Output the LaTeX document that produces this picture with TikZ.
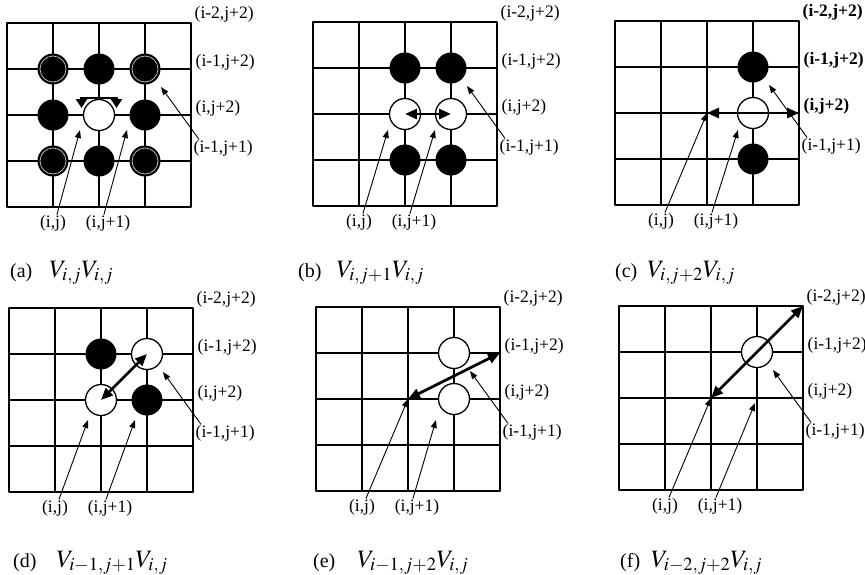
\documentclass[tikz,border=0pt]{standalone}
\usepackage{mathptmx}
\usepackage[no-math]{fontspec}
\setmainfont{Liberation Serif}
\usetikzlibrary{arrows.meta}

\tikzset{
  gridline/.style={line width=1.2pt},
  outline/.style={line width=1.7pt},
  lbl/.style={inner sep=0.5pt, font=\fontsize{17.5}{19}\selectfont},
  boldlbl/.style={lbl, font=\fontsize{17.5}{19}\selectfont\bfseries},
  pointer/.style={line width=0.9pt, -{Triangle[length=8pt,width=6pt]}},
  bigarrow/.style={line width=2.8pt, {Triangle[length=12pt,width=10pt]}-{Triangle[length=12pt,width=10pt]}},
  blackdot/.style={circle, fill=black, minimum size=31pt, inner sep=0pt},
  ringdot/.style={blackdot, path picture={\draw[gray!45, line width=0.7pt] (path picture bounding box.center) circle (13pt);}},
  whitedot/.style={circle, draw, line width=1.3pt, fill=white, minimum size=31pt, inner sep=0pt},
  captxt/.style={anchor=base west, inner sep=0pt, font=\fontsize{20}{24}\selectfont},
}

\newcommand{\capmath}[1]{{\fontsize{25}{30}\selectfont$#1$}}

% grid, row labels and the three pointers of one panel
% #1 name, #2 target of (i,j), #3 target of (i,j+1), #4 style of the upper labels
\newcommand{\cellpanel}[4]{%
  \foreach \k in {1,2,3} {
    \draw[gridline] (\k*46,0) -- (\k*46,184);
    \draw[gridline] (0,\k*46) -- (184,\k*46);
  }
  \draw[outline] (0,0) rectangle (184,184);
  \foreach \cx in {0,...,4} \foreach \ry in {0,...,4} \coordinate (#1-\cx-\ry) at (\cx*46,\ry*46);
  \node[#4, anchor=west] (#1-l1) at (187,-9) {(i-2,j+2)};
  \node[#4, anchor=west] (#1-l2) at (188,39) {(i-1,j+2)};
  \node[#4, anchor=west] (#1-l3) at (188,85) {(i,j+2)};
  \node[lbl, anchor=west] (#1-l4) at (186,125) {(i-1,j+1)};
  \node[lbl] (#1-l5) at (46,200) {(i,j)};
  \node[lbl] (#1-l6) at (101,200) {(i,j+1)};
  \draw[pointer] ([xshift=4pt]#1-l5.north) -- #2;
  \draw[pointer] ([xshift=-4pt]#1-l6.north) -- #3;
  \draw[pointer] ([xshift=6pt]#1-l4.north west) -- (154,64);
}

\begin{document}
\begin{tikzpicture}[line cap=round,line join=round,x=1pt,y=-1pt]
  \useasboundingbox (0,0) rectangle (865,574);

  % (a)
  \begin{scope}[shift={(7,23)}]
  \cellpanel{a}{(73,107)}{(120,107)}{lbl}
  \node[ringdot] (a-d1) at (a-1-1) {};
  \node[blackdot] (a-d2) at (a-2-1) {};
  \node[ringdot] (a-d3) at (a-3-1) {};
  \node[blackdot] (a-d4) at (a-1-2) {};
  \node[whitedot] (a-w) at (a-2-2) {};
  \node[blackdot] (a-d5) at (a-3-2) {};
  \node[ringdot] (a-d6) at (a-1-3) {};
  \node[blackdot] (a-d7) at (a-2-3) {};
  \node[ringdot] (a-d8) at (a-3-3) {};
  \draw[line width=2.8pt, line cap=butt, line join=miter, {Triangle[length=9pt,width=11pt]}-{Triangle[length=9pt,width=11pt]}]
    ([shift={(-17.5pt,7pt)}]a-w.center) -- ++(0,-10) -- ++(35,0) -- ++(0,10);
  \end{scope}

  % (b)
  \begin{scope}[shift={(313,22)}]
  \cellpanel{b}{(75,108)}{(122,108)}{lbl}
  \node[blackdot] (b-d1) at (b-2-1) {};
  \node[blackdot] (b-d2) at (b-3-1) {};
  \node[whitedot] (b-w1) at (b-2-2) {};
  \node[whitedot] (b-w2) at (b-3-2) {};
  \node[blackdot] (b-d3) at (b-2-3) {};
  \node[blackdot] (b-d4) at (b-3-3) {};
  \draw[bigarrow] (b-w1.center) -- (b-w2.center);
  \end{scope}

  % (c)
  \begin{scope}[shift={(615,21)}]
  \cellpanel{c}{(c-2-2)}{(123,109)}{boldlbl}
  \node[blackdot] (c-d1) at (c-3-1) {};
  \node[whitedot] (c-w) at (c-3-2) {};
  \node[blackdot] (c-d2) at (c-3-3) {};
  \draw[bigarrow] (c-2-2) -- (c-4-2);
  \end{scope}

  % (d)
  \begin{scope}[shift={(9,308)}]
  \cellpanel{d}{(79,112)}{(126,112)}{lbl}
  \node[blackdot] (d-d1) at (d-2-1) {};
  \node[whitedot] (d-w2) at (d-3-1) {};
  \node[whitedot] (d-w1) at (d-2-2) {};
  \node[blackdot] (d-d2) at (d-3-2) {};
  \draw[bigarrow] (d-w1.center) -- (d-w2.center);
  \end{scope}

  % (e)
  \begin{scope}[shift={(316,307)}]
  \cellpanel{e}{(e-2-2)}{(120,113)}{lbl}
  \node[whitedot] (e-w1) at (e-3-1) {};
  \node[whitedot] (e-w2) at (e-3-2) {};
  \draw[bigarrow] (e-2-2) -- (e-4-1);
  \end{scope}

  % (f)
  \begin{scope}[shift={(619,306)}]
  \cellpanel{f}{(f-2-2)}{(136,97)}{lbl}
  \node[whitedot] (f-w) at (f-3-1) {};
  \draw[bigarrow] (f-2-2) -- (f-4-0);
  \end{scope}

  % captions
  \node[captxt] (cap-a) at (10,277) {(a)\hspace{17pt}\capmath{V_{i,j}V_{i,j}}};
  \node[captxt] (cap-b) at (298,277) {(b)\hspace{15pt}\capmath{V_{i,j+1}V_{i,j}}};
  \node[captxt] (cap-c) at (615,277) {(c)\hspace{10pt}\capmath{V_{i,j+2}V_{i,j}}};
  \node[captxt] (cap-d) at (13,567) {(d)\hspace{20pt}\capmath{V_{i-1,j+1}V_{i,j}}};
  \node[captxt] (cap-e) at (313,567) {(e)\hspace{22pt}\capmath{V_{i-1,j+2}V_{i,j}}};
  \node[captxt] (cap-f) at (620,567) {(f)\hspace{11pt}\capmath{V_{i-2,j+2}V_{i,j}}};
\end{tikzpicture}
\end{document}
